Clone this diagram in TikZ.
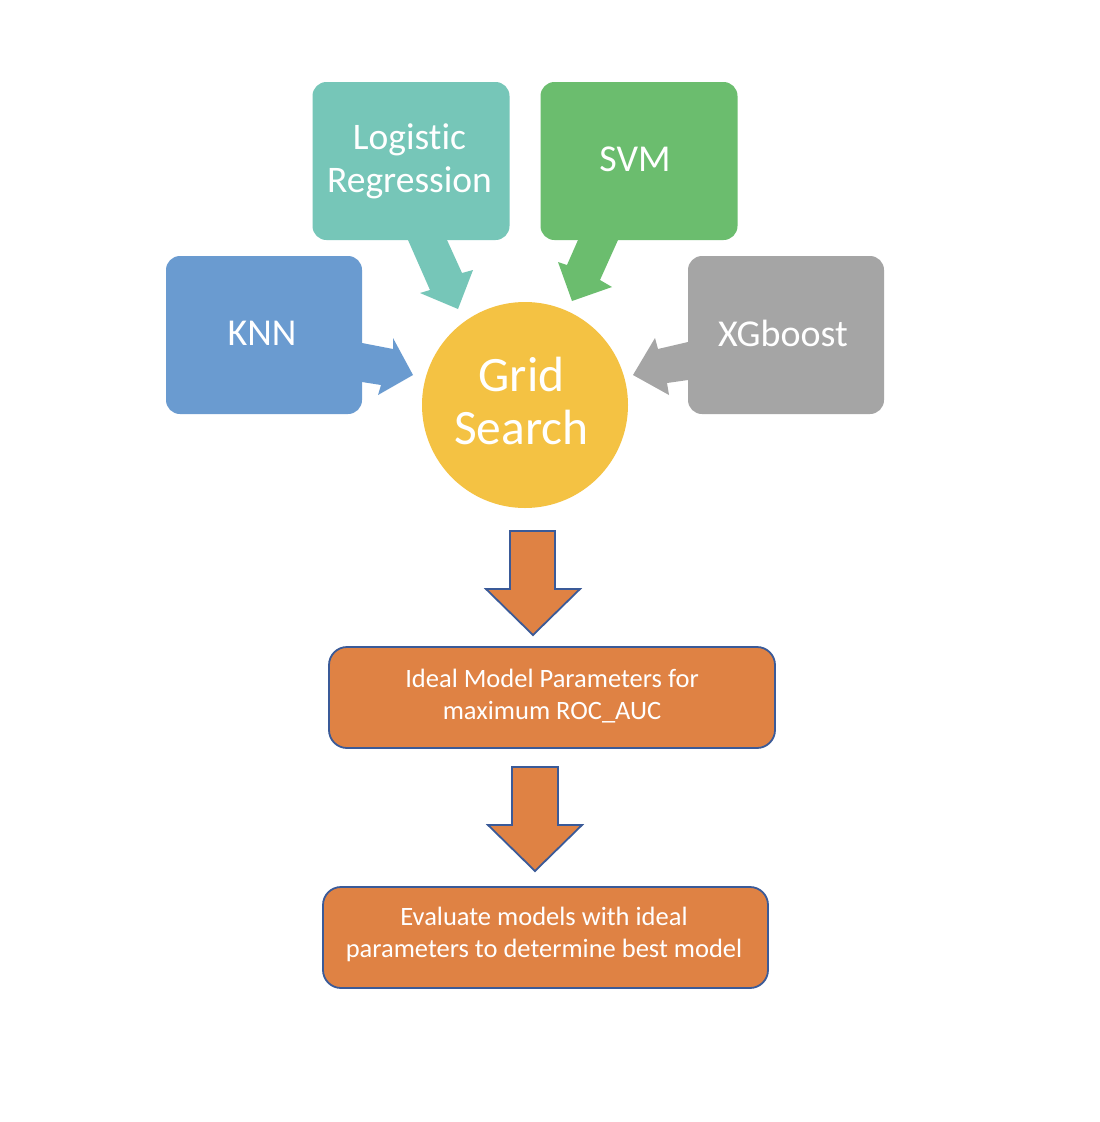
\documentclass[tikz,border=0pt]{standalone}
\usepackage{fontspec}
\setmainfont{Carlito}[Ligatures=NoCommon]
\definecolor{cteal}{HTML}{76C6B8}
\definecolor{cgreen}{HTML}{6BBD6E}
\definecolor{cblue}{HTML}{6A9BD0}
\definecolor{cgray}{HTML}{A5A5A5}
\definecolor{cyellow}{HTML}{F4C243}
\definecolor{corange}{HTML}{DF8244}
\definecolor{cline}{HTML}{3A5A98}
\begin{document}
\begin{tikzpicture}[x=1pt,y=-1pt,
  model/.style={rounded corners=14pt, minimum width=197pt, minimum height=158pt, inner sep=0pt},
  modeltext/.style={text=white, align=center, inner sep=0pt, font=\fontsize{38}{43}\selectfont},
  result/.style={rounded corners=18pt, draw=cline, line width=1.8pt, fill=corange, inner sep=0pt},
  resulttext/.style={text=white, align=center, inner sep=0pt, font=\fontsize{26.5}{32}\selectfont},
  downarrow/.style={draw=cline, line width=1.8pt, fill=corange, line join=miter}]
\useasboundingbox (0,0) rectangle (1100,1122);
\fill[white] (0,0) rectangle (1100,1122);

% model boxes
\node[model, fill=cteal] (lr) at (411,161) {};
\node[modeltext, font=\fontsize{37.5}{42.5}\selectfont] (lrt) at (409.5,161.5) {Logistic\\Regression};
\node[model, fill=cgreen] (svm) at (639,161) {};
\node[modeltext] (svmt) at (635,159) {SVM};
\node[model, fill=cblue, minimum width=196pt] (knn) at (264,335) {};
\node[modeltext] (knnt) at (262,333) {KNN};
\node[model, fill=cgray, minimum width=196pt] (xgb) at (786,335) {};
\node[modeltext] (xgbt) at (783,333) {XGboost};

% grid search circle
\node[circle, fill=cyellow, minimum size=206pt, inner sep=0pt] (gs) at (525,405) {};
\node[text=white, align=center, inner sep=0pt, font=\fontsize{49.5}{53}\selectfont] (gst) at (521.5,401) {Grid\\Search};

% block arrows into the circle
\fill[cblue] (362,343) -- (393,349) -- (393,338) -- (413,375) -- (378,395) -- (381,385) -- (362,382) -- cycle;
\fill[cteal] (408,240) -- (447,240) -- (462,273) -- (473,270) -- (458,309) -- (420,293) -- (430,290) -- cycle;
\fill[cgreen] (578,240) -- (618,240) -- (600,280) -- (612,287) -- (572,301) -- (558,262) -- (567,265) -- cycle;
\fill[cgray] (688,342) -- (658,349) -- (655,338) -- (633,375) -- (669,395) -- (667,383) -- (688,380) -- cycle;

% result boxes
\node[result, minimum width=446pt, minimum height=101pt] (ideal) at (552,697.5) {};
\node[resulttext] (idealt) at (552,696) {Ideal Model Parameters for\\maximum ROC\_AUC};
\node[result, minimum width=445pt, minimum height=101pt] (eval) at (545.5,937.5) {};
\node[resulttext] (evalt) at (544,934) {Evaluate models with ideal\\parameters to determine best model};

% down arrows
\draw[downarrow] (510,531) -- (555,531) -- (555,589) -- (580,589) -- (533,635) -- (486,589) -- (510,589) -- cycle;
\draw[downarrow] (512,767) -- (558,767) -- (558,825) -- (582,825) -- (535,871) -- (488,825) -- (512,825) -- cycle;
\end{tikzpicture}
\end{document}
